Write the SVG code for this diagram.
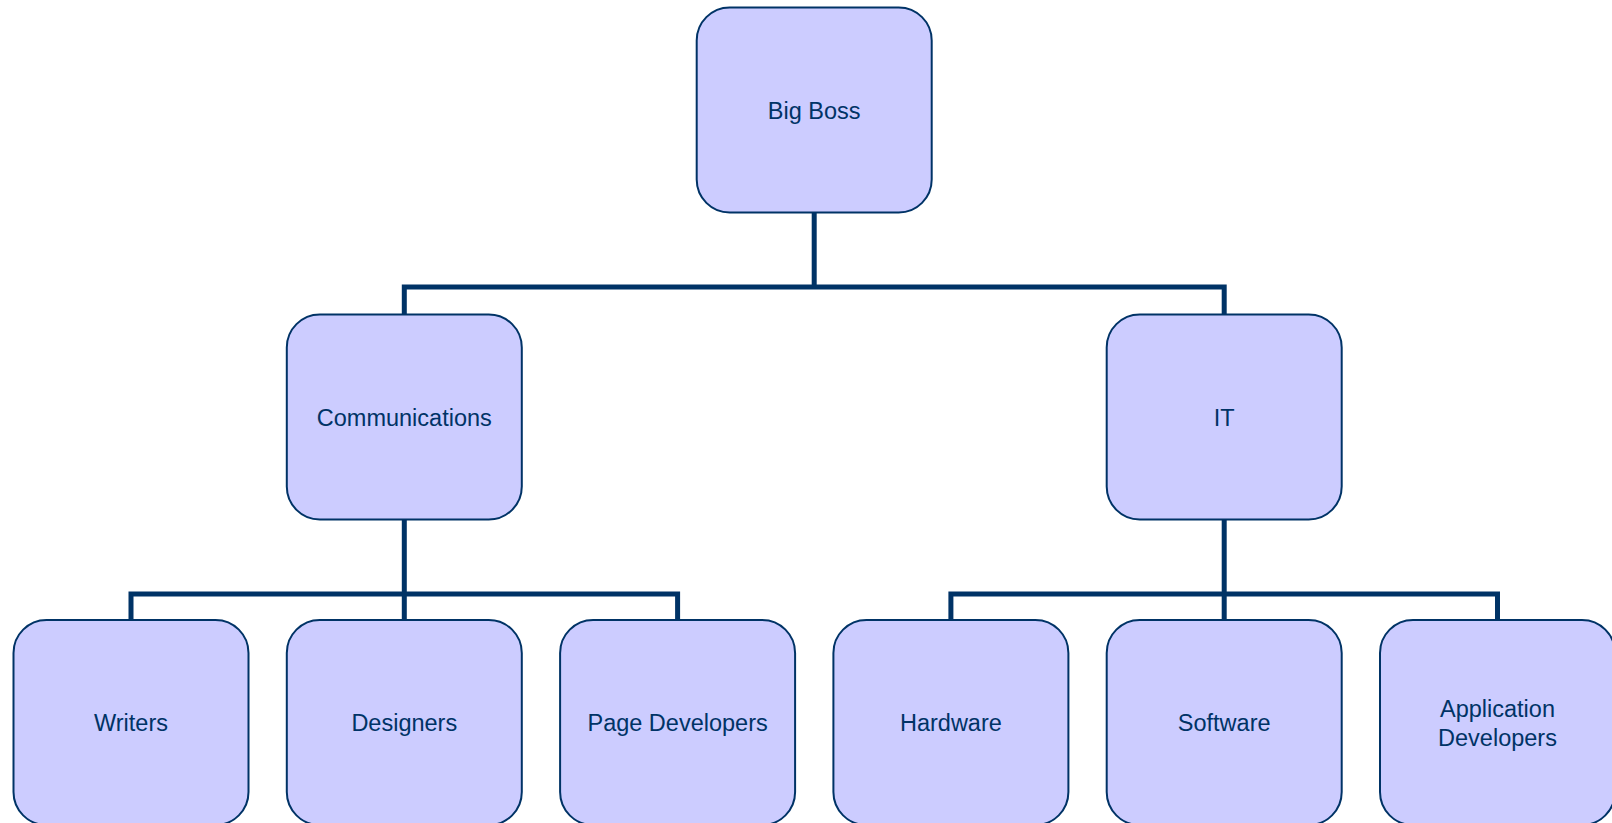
<svg xmlns="http://www.w3.org/2000/svg" width="1612" height="823" viewBox="0 0 1612 823">
<style>
.n{fill:#CCCCFF;stroke:#003366;stroke-width:2}
.t{font-family:"Liberation Sans",Arial,sans-serif;font-size:23.5px;fill:#003366;text-anchor:middle}
.c{fill:none;stroke:#003366;stroke-width:5;stroke-linejoin:miter}
</style>
<rect width="1612" height="823" fill="#FFFFFF"/>
<g id="connectors">
<path class="c" d="M814.2,212.5 V287 M404.3,314.5 V287 H1224.2 V314.5"/>
<path class="c" d="M404.3,519.5 V620 M131,620 V594 H677.6 V620"/>
<path class="c" d="M1224.2,519.5 V620 M950.9,620 V594 H1497.5 V620"/>
</g>
<g id="bigboss"><rect class="n" x="696.7" y="7.5" width="235" height="205" rx="33"/><text class="t" x="814.2" y="118.5">Big Boss</text></g>
<g id="communications"><rect class="n" x="286.8" y="314.5" width="235" height="205" rx="33"/><text class="t" x="404.3" y="425.5">Communications</text></g>
<g id="it"><rect class="n" x="1106.7" y="314.5" width="235" height="205" rx="33"/><text class="t" x="1224.2" y="425.5">IT</text></g>
<g id="writers"><rect class="n" x="13.5" y="620" width="235" height="205" rx="33"/><text class="t" x="131" y="731">Writers</text></g>
<g id="designers"><rect class="n" x="286.8" y="620" width="235" height="205" rx="33"/><text class="t" x="404.3" y="731">Designers</text></g>
<g id="pagedevelopers"><rect class="n" x="560.1" y="620" width="235" height="205" rx="33"/><text class="t" x="677.6" y="731">Page Developers</text></g>
<g id="hardware"><rect class="n" x="833.4" y="620" width="235" height="205" rx="33"/><text class="t" x="950.9" y="731">Hardware</text></g>
<g id="software"><rect class="n" x="1106.7" y="620" width="235" height="205" rx="33"/><text class="t" x="1224.2" y="731">Software</text></g>
<g id="appdevelopers"><rect class="n" x="1380" y="620" width="235" height="205" rx="33"/><text class="t" x="1497.5" y="716.5">Application</text><text class="t" x="1497.5" y="745.5">Developers</text></g>
</svg>
